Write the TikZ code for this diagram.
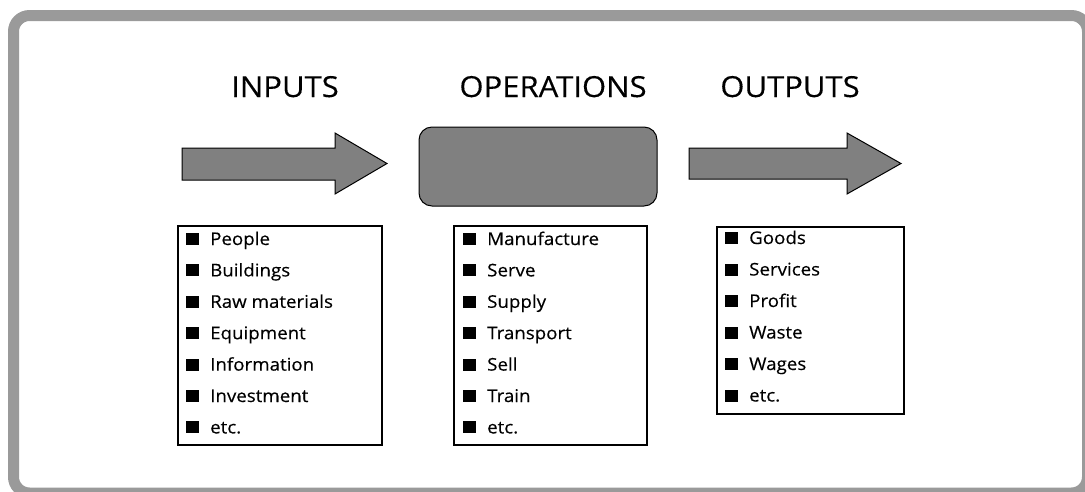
\documentclass[tikz,border=0pt]{standalone}
\usepackage{fontspec}
\setmainfont{Open Sans}[FakeStretch=1.07, FakeBold=0.3]
\definecolor{framegray}{HTML}{9A9A9A}
\definecolor{shapegray}{HTML}{808080}
\newcommand\itm[1]{\rule{13pt}{12pt}\hspace{11pt}#1}
\tikzset{
  title/.style={font=\fontsize{29}{32}\selectfont, anchor=base, inner sep=0pt},
  item/.style={font=\fontsize{17.5}{20}\selectfont, anchor=base west, inner sep=0pt},
  listbox/.style={draw=black, line width=1.5pt, fill=white},
  bigarrow/.style={draw=black, line width=1pt, fill=shapegray, line join=miter},
}
\begin{document}
\begin{tikzpicture}[x=1pt,y=-1pt]
\useasboundingbox (0,0) rectangle (1085,491);
\clip (0,0) rectangle (1085,491);
% frame
\draw[framegray, line width=11pt, rounded corners=16pt] (13.5,15.5) rectangle (1087.5,493);
% titles
\node[title] (tin) at (285,97) {INPUTS};
\node[title] (top) at (553,97) {OPERATIONS};
\node[title] (tout) at (790,97) {OUTPUTS};
% arrows
\draw[bigarrow] (182,148) -- (335,148) -- (335,133) -- (387,163.5) -- (335,194) -- (335,180) -- (182,180) -- cycle;
\draw[bigarrow] (689,148) -- (847,148) -- (847,133) -- (901,163.5) -- (847,194) -- (847,179) -- (689,179) -- cycle;
% operations box
\node[draw=black, line width=1pt, fill=shapegray, rounded corners=13pt, minimum width=238pt, minimum height=79pt, inner sep=0pt] (opbox) at (538,166.5) {};
% list boxes
\node[listbox, minimum width=204pt, minimum height=219pt, inner sep=0pt, anchor=north west] (inbox) at (177,225) {};
\node[listbox, minimum width=193pt, minimum height=219pt, inner sep=0pt, anchor=north west] (opsbox) at (453,225) {};
\node[listbox, minimum width=187pt, minimum height=187pt, inner sep=0pt, anchor=north west] (outbox) at (716,226) {};
% items
\foreach \t [count=\i] in {People,Buildings,Raw materials,Equipment,Information,Investment,etc.}
  \node[item] (in\i) at (186,{245+31.4*(\i-1)}) {\itm{\t}};
\foreach \t [count=\i] in {Manufacture,Serve,Supply,Transport,Sell,Train,etc.}
  \node[item] (op\i) at (463,{245+31.4*(\i-1)}) {\itm{\t}};
\foreach \t [count=\i] in {Goods,Services,Profit,Waste,Wages,etc.}
  \node[item] (out\i) at (725,{244+31.5*(\i-1)}) {\itm{\t}};
\end{tikzpicture}
\end{document}
